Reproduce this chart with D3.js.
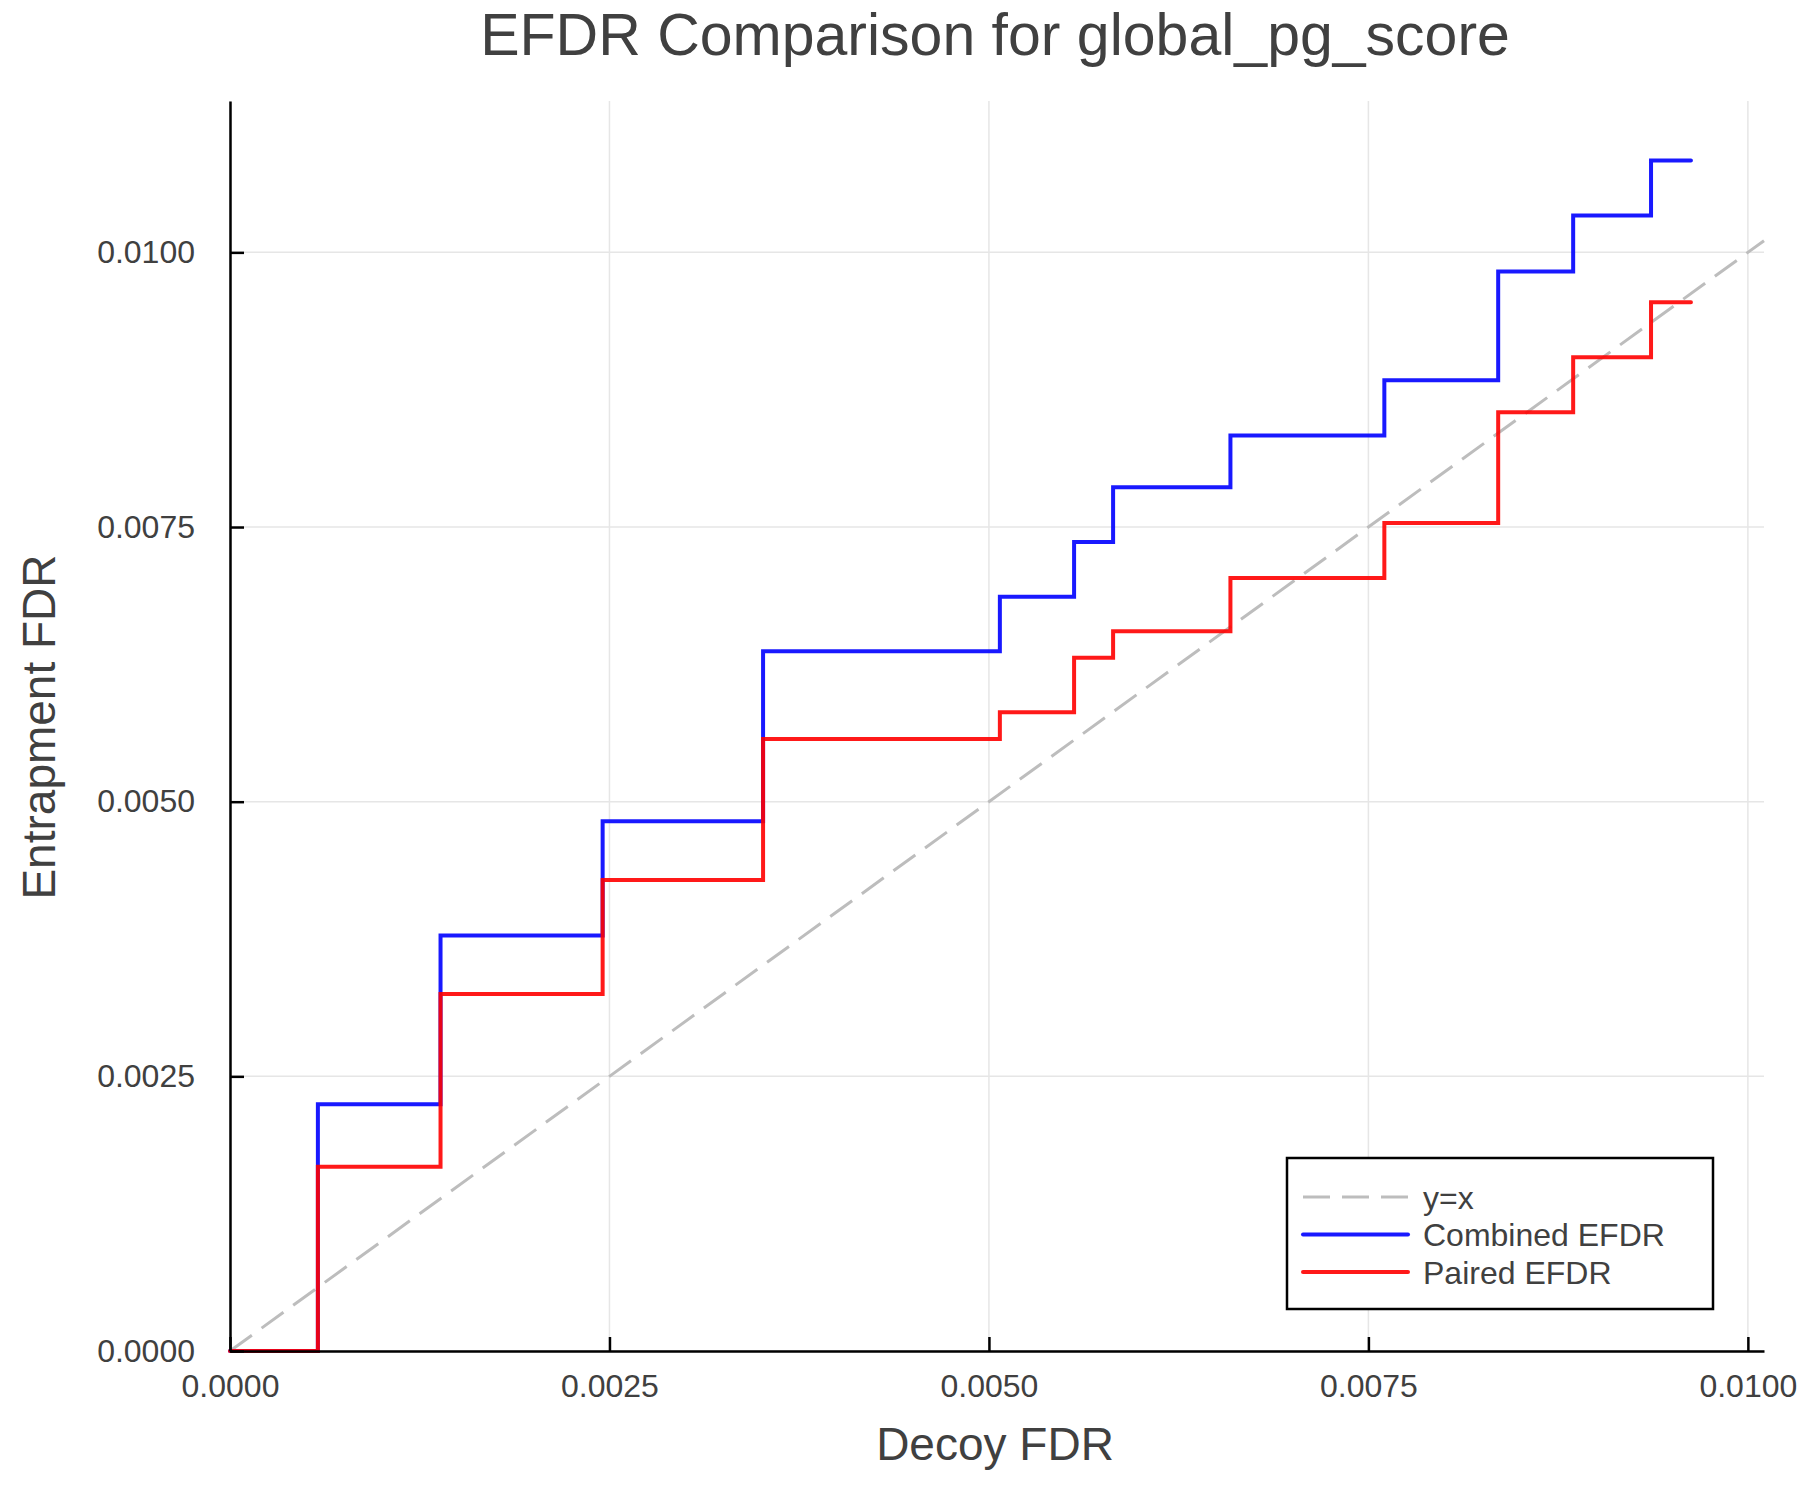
<!DOCTYPE html>
<html>
<head>
<meta charset="utf-8">
<script src="https://cdn.jsdelivr.net/npm/d3@7"></script>
<style>
  body { margin: 0; background: #fff; }
  text { font-family: "Liberation Sans", Arial, sans-serif; fill: #404040; }
</style>
</head>
<body>
<script>
// step data (x = decoy FDR where each step starts)
const decoyFdr     = [0, 0.000579, 0.001387, 0.002455, 0.003512, 0.005072, 0.005561, 0.005818, 0.006591, 0.007605, 0.008355, 0.008849, 0.009362, 0.009625]
const combinedEfdr = [0, 0.002245, 0.003782, 0.004821, 0.006370, 0.006866, 0.007364, 0.007861, 0.008334, 0.008836, 0.009827, 0.010336, 0.010836, 0.010836]
const pairedEfdr   = [0, 0.001677, 0.003249, 0.004288, 0.005570, 0.005815, 0.006309, 0.006552, 0.007036, 0.007536, 0.008545, 0.009045, 0.009545, 0.009545]
const tickValues   = [0, 0.0025, 0.005, 0.0075, 0.01]
const legendLabels = ["y=x", "Combined EFDR", "Paired EFDR"]

const width = 1800, height = 1500
const margin = {top: 101, right: 36, bottom: 149, left: 230}

// limits are 5% above the data max, like the original plot
const xMax = d3.max(decoyFdr) * 1.05
const yMax = d3.max(combinedEfdr.concat(pairedEfdr)) * 1.05

const svg = d3.select("body").append("svg")
  .attr("width", width)
  .attr("height", height)

const x = d3.scaleLinear().domain([0, xMax]).range([margin.left, width - margin.right])
const y = d3.scaleLinear().domain([0, yMax]).range([height - margin.bottom, margin.top])

// grid
svg.append("g").selectAll("line").data(tickValues).join("line")
  .attr("x1", d => x(d)).attr("x2", d => x(d))
  .attr("y1", y(0)).attr("y2", y(yMax))
  .attr("stroke", "#e6e6e6").attr("stroke-width", 1.5)
svg.append("g").selectAll("line").data(tickValues).join("line")
  .attr("x1", x(0)).attr("x2", x(xMax))
  .attr("y1", d => y(d)).attr("y2", d => y(d))
  .attr("stroke", "#e6e6e6").attr("stroke-width", 1.5)

// y = x reference
svg.append("line")
  .attr("x1", x(0)).attr("y1", y(0))
  .attr("x2", x(xMax)).attr("y2", y(xMax))
  .attr("stroke", "#bdbdbd").attr("stroke-width", 3)
  .attr("stroke-dasharray", "27,12")

const pts = ys => decoyFdr.map((d, i) => [d, ys[i]])
const line = d3.line()
  .x(d => x(d[0]))
  .y(d => y(d[1]))
  .curve(d3.curveStepAfter)

const series = [
  {vals: combinedEfdr, color: "#0000ff"},
  {vals: pairedEfdr, color: "#ff0000"}
]
series.forEach(s => {
  svg.append("path")
    .datum(pts(s.vals))
    .attr("fill", "none")
    .attr("stroke", s.color)
    .attr("stroke-opacity", 0.9)
    .attr("stroke-width", 4)
    .attr("stroke-linejoin", "miter")
    .attr("stroke-linecap", "round")
    .attr("d", line)
})

// axes, ticks pointing inward
const fmt = d3.format(".4f")
const xAxis = svg.append("g")
  .attr("transform", "translate(0," + y(0) + ")")
  .call(d3.axisBottom(x).tickValues(tickValues).tickFormat(fmt).tickSizeInner(-14).tickSizeOuter(0).tickPadding(23))
const yAxis = svg.append("g")
  .attr("transform", "translate(" + x(0) + ",0)")
  .call(d3.axisLeft(y).tickValues(tickValues).tickFormat(fmt).tickSizeInner(-14).tickSizeOuter(0).tickPadding(35))

;[xAxis, yAxis].forEach(g => {
  g.select(".domain").attr("stroke", "#000").attr("stroke-width", 2.5)
  g.selectAll(".tick line").attr("stroke", "#000").attr("stroke-width", 2.5)
  g.selectAll(".tick text")
    .attr("font-size", 32)
    .attr("font-family", "Liberation Sans, Arial, sans-serif")
    .attr("fill", "#404040")
})

// title and axis labels
svg.append("text")
  .attr("x", 995).attr("y", 55)
  .attr("text-anchor", "middle")
  .attr("font-size", 59)
  .text("EFDR Comparison for global_pg_score")

svg.append("text")
  .attr("x", 995).attr("y", 1460)
  .attr("text-anchor", "middle")
  .attr("font-size", 46)
  .text("Decoy FDR")

svg.append("text")
  .attr("transform", "translate(55,727) rotate(-90)")
  .attr("text-anchor", "middle")
  .attr("font-size", 46)
  .text("Entrapment FDR")

// legend
const legend = svg.append("g").attr("transform", "translate(1287,1158)")
legend.append("rect")
  .attr("width", 426).attr("height", 151)
  .attr("fill", "#fff").attr("stroke", "#000").attr("stroke-width", 2.5)

const legendStyles = [
  {color: "#bdbdbd", dash: "27,12", w: 3},
  {color: "#0000ff", dash: null, w: 4},
  {color: "#ff0000", dash: null, w: 4}
]
legendLabels.forEach((label, i) => {
  const cy = 39 + i * 37.5
  legend.append("line")
    .attr("x1", 16).attr("x2", 121)
    .attr("y1", cy).attr("y2", cy)
    .attr("stroke", legendStyles[i].color)
    .attr("stroke-opacity", i ? 0.9 : 1)
    .attr("stroke-width", legendStyles[i].w)
    .attr("stroke-linecap", i ? "round" : "butt")
    .attr("stroke-dasharray", legendStyles[i].dash)
  legend.append("text")
    .attr("x", 136).attr("y", cy + 11.5)
    .attr("font-size", 32)
    .text(label)
})
</script>
</body>
</html>
